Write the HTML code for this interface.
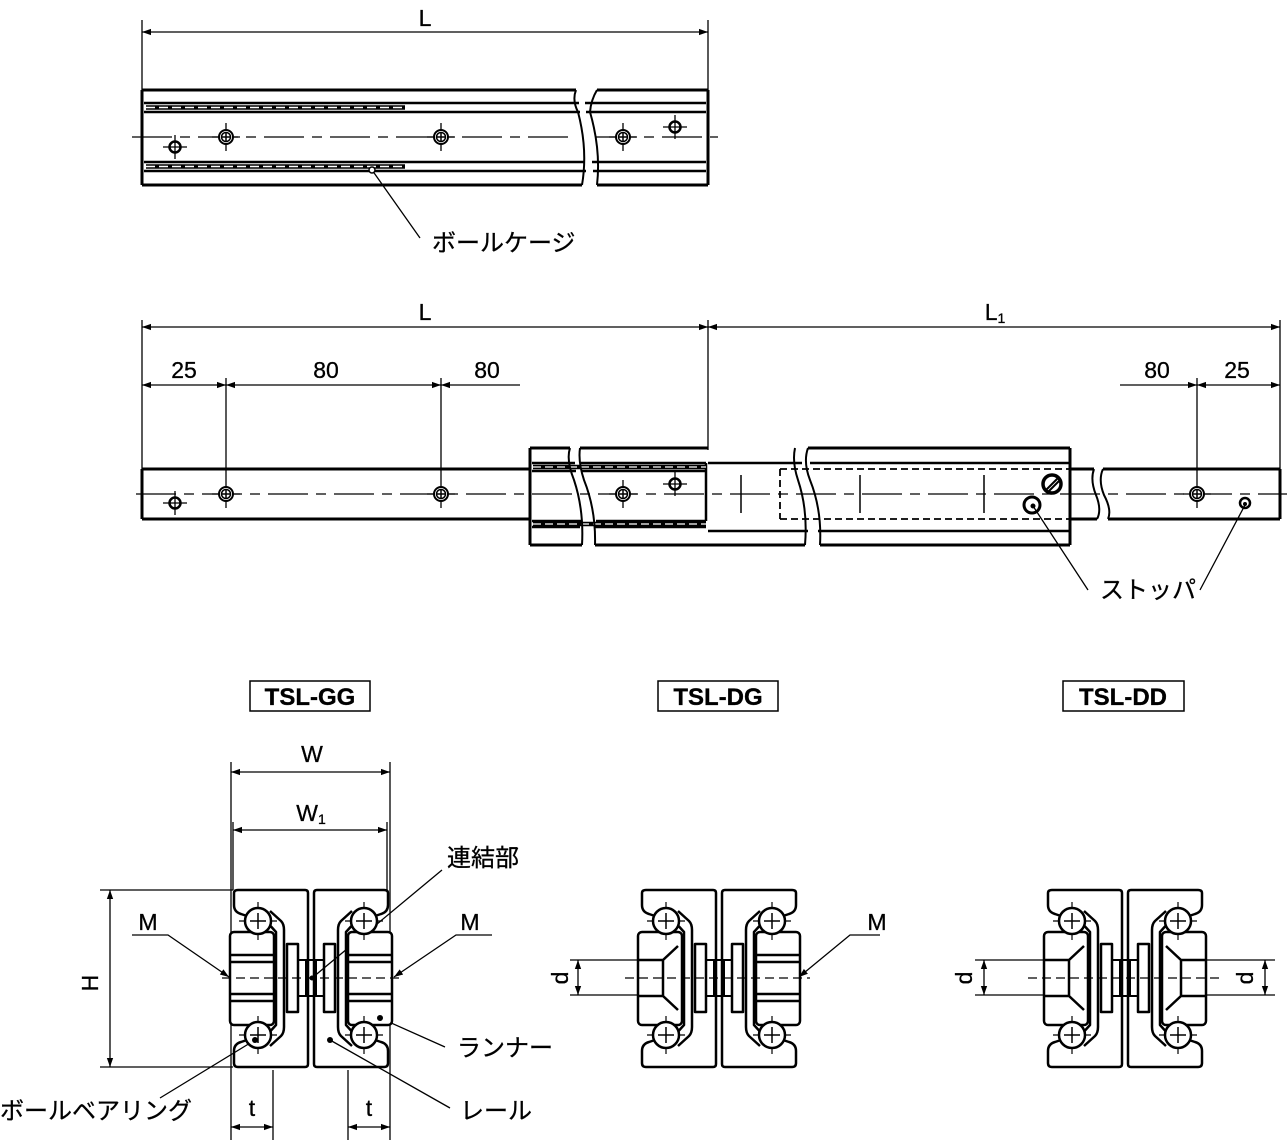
<!DOCTYPE html>
<html><head><meta charset="utf-8"><style>
html,body{margin:0;padding:0;background:#fff}
svg{display:block}
text{font-family:"Liberation Sans","Noto Sans CJK JP",sans-serif;fill:#000;stroke:#000;stroke-width:0.3}
</style></head><body>
<svg width="1287" height="1146" viewBox="0 0 1287 1146" xmlns="http://www.w3.org/2000/svg">
<defs>
<marker id="a" viewBox="0 0 10 10" refX="10" refY="5" markerWidth="9" markerHeight="9" orient="auto-start-reverse" markerUnits="userSpaceOnUse"><path d="M0,1.5 L10,5 L0,8.5 Z" fill="#000"/></marker>
<g id="hb"><circle r="7" fill="#fff" stroke="#000" stroke-width="2"/><circle r="4.5" fill="none" stroke="#000" stroke-width="1.5"/><path d="M-4.5,0H4.5M0,-4.5V4.5" stroke="#000" stroke-width="1.5"/><path d="M0,-14V-7M0,7V14M-14,0H-7M7,0H14" stroke="#000" stroke-width="1.3"/></g>
<g id="hs"><circle r="5.5" fill="#fff" stroke="#000" stroke-width="2.5"/><path d="M-5,0H5M0,-5V5" stroke="#000" stroke-width="1.3"/><path d="M0,-12V-5M0,5V12M-12,0H-5M5,0H12" stroke="#000" stroke-width="1.3"/></g>
<g id="ball"><circle r="13" fill="#fff" stroke="#000" stroke-width="2.5"/><path d="M-8,0H8M0,-8V8" stroke="#000" stroke-width="1.5"/><path d="M0,-19V-13M0,13V19M-19,0H-13M13,0H19" stroke="#000" stroke-width="1.2"/></g>
<g id="half" fill="none" stroke="#000" stroke-width="2.5" stroke-linejoin="round">
<path d="M-73,2 H-6 Q-3,2 -3,5 V176 Q-3,179 -6,179 H-73 Q-77,179 -77,175 V163 Q-77,156 -70,154 L-64,152 M-64,28 L-70,26 Q-77,24 -77,17 V5 Q-77,2 -73,2"/>
<path d="M-41,23 L-30,33 Q-27,36 -27,42 V139 Q-27,145 -30,148 L-41,158"/>
<path d="M-45,33 L-35,44 V137 L-45,148"/>
<rect x="-81" y="44" width="44" height="93" rx="4" fill="#fff"/>
<use href="#ball" x="-53" y="33"/><use href="#ball" x="-53" y="147"/>
<rect x="-24" y="56" width="11" height="68"/>
<path d="M-13,72 H0 M-13,108 H0" stroke-width="2"/>
</g>
<g id="lines"><path d="M-81,67 H-37 M-81,74 H-37 M-81,106 H-37 M-81,113 H-37" stroke="#000" stroke-width="2.5" fill="none"/></g>
<g id="csk"><path d="M-81,72 H-56 L-41,58 M-81,108 H-56 L-41,122 M-56,72 V108" stroke="#000" stroke-width="2.5" fill="none"/></g>
<g id="sec"><use href="#half"/><use href="#half" transform="scale(-1,1)"/><path d="M-5,72V108M5,72V108" stroke="#000" stroke-width="2"/></g>
</defs>

<g stroke="#000" fill="none">
<path d="M142,20V92M708,20V92" stroke-width="1.3"/>
<path d="M142,32H708" stroke-width="1.3" marker-start="url(#a)" marker-end="url(#a)"/>
<path d="M142,90H576 M597,90H708 M142,185H582 M597,185H708 M142,90V185 M708,90V185" stroke-width="3"/>
<path d="M144,103H579 M585,103H706 M144,112H580 M586,112H706 M144,162H585 M592,162H706 M144,171H586 M593,171H706" stroke-width="2.5"/>
<path d="M576,90 Q572,100 578,112 Q588,150 582,185 M597,90 Q591,100 590,112 Q601,150 597,185" stroke-width="2"/>
<path d="M146,107.5H405 M146,166.5H405" stroke-width="4.5"/>
<path d="M146,107.5H405 M146,166.5H405" stroke="#fff" stroke-width="1.5" stroke-dasharray="9 4"/>
<path d="M132,137H575 M596,137H718" stroke-width="1.3" stroke-dasharray="40 8 10 8"/>
<path d="M142,320V470 M708,320V450 M1280,320V495 M226,378V480 M441,378V480 M1197,378V480" stroke-width="1.3"/>
<path d="M142,327H708" stroke-width="1.3" marker-start="url(#a)" marker-end="url(#a)"/>
<path d="M708,327H1280" stroke-width="1.3" marker-start="url(#a)" marker-end="url(#a)"/>
<path d="M142,385H226" stroke-width="1.3" marker-start="url(#a)" marker-end="url(#a)"/>
<path d="M226,385H441" stroke-width="1.3" marker-start="url(#a)" marker-end="url(#a)"/>
<path d="M520,385H441" stroke-width="1.3" marker-end="url(#a)"/>
<path d="M1120,385H1197" stroke-width="1.3" marker-end="url(#a)"/>
<path d="M1197,385H1280" stroke-width="1.3" marker-start="url(#a)" marker-end="url(#a)"/>
<path d="M142,469H530 M142,519H530 M142,469V519" stroke-width="3"/>
<path d="M530,469V519" stroke-width="1.5" stroke-dasharray="5 3"/>
<path d="M530,448H570 M530,545H582 M530,448V545 M580,448H708 M595,545H805 M808,448H1070 M820,545H1070 M1070,448V545" stroke-width="3"/>
<path d="M532,463H575 M581,463H706 M532,527H580 M594,527H706" stroke-width="2.5"/>
<path d="M532,471H576 M582,471H706 M532,521H581 M596,521H706 M706,463V521" stroke-width="2.5"/>
<path d="M708,463H802 M810,463H1070 M708,531H808 M818,531H1070" stroke-width="2.5"/>
<path d="M533,467H706 M533,524H706" stroke-width="4.5"/>
<path d="M533,467H706 M533,524H706" stroke="#fff" stroke-width="1.3" stroke-dasharray="8 4"/>
<path d="M570,448 Q566,460 574,480 Q584,510 582,545 M580,448 Q578,462 584,480 Q596,510 595,545 M795,448 Q792,462 798,480 Q808,510 805,545 M808,448 Q803,462 810,480 Q822,510 820,545" stroke-width="2"/>
<path d="M780,469 H1070 M780,519 H1070 M780,469V519" stroke-width="1.8" stroke-dasharray="7 4"/>
<path d="M1070,469H1094 M1103,469H1280 M1070,519H1097 M1108,519H1280 M1280,469V519" stroke-width="3"/>
<path d="M1094,469 Q1090,480 1096,495 Q1102,510 1097,519 M1103,469 Q1098,480 1104,495 Q1112,510 1108,519" stroke-width="2"/>
<path d="M136,494H1290" stroke-width="1.3" stroke-dasharray="40 8 10 8"/>
<path d="M741,475V513 M860,475V513 M984,475V513" stroke-width="1.5"/>
<circle cx="1052" cy="484" r="9" stroke-width="3.5"/><path d="M1045,491L1059,477M1047,493L1061,479" stroke-width="2"/>
<circle cx="1032" cy="505" r="8" stroke-width="3" fill="#fff"/><circle cx="1033" cy="506" r="2" fill="#000"/>
<circle cx="1245" cy="503" r="5" stroke-width="2.5"/><circle cx="1245" cy="504" r="1.5" fill="#000"/>
<path d="M372,170L420,238 M1033,506L1088,590 M1245,505L1200,590" stroke-width="1.3"/>
<circle cx="372" cy="170" r="3" fill="#fff" stroke-width="1.5"/>
<rect x="250" y="681" width="120" height="30" stroke-width="1.5"/>
<rect x="658" y="681" width="120" height="30" stroke-width="1.5"/>
<rect x="1063" y="681" width="121" height="30" stroke-width="1.5"/>
<path d="M231,762V1140 M390,762V1140 M233,822V890 M387,822V890 M273,1070V1140 M348,1070V1140" stroke-width="1.3"/>
<path d="M231,772H390" stroke-width="1.3" marker-start="url(#a)" marker-end="url(#a)"/>
<path d="M233,830H387" stroke-width="1.3" marker-start="url(#a)" marker-end="url(#a)"/>
<path d="M231,1127H273" stroke-width="1.3" marker-start="url(#a)" marker-end="url(#a)"/>
<path d="M348,1127H390" stroke-width="1.3" marker-start="url(#a)" marker-end="url(#a)"/>
<path d="M100,890H233 M100,1067H233" stroke-width="1.3"/>
<path d="M110,890V1067" stroke-width="1.3" marker-start="url(#a)" marker-end="url(#a)"/>
<path d="M132,935H168L229,977" stroke-width="1.3" marker-end="url(#a)"/>
<path d="M492,935H456L394,977" stroke-width="1.3" marker-end="url(#a)"/>
<path d="M880,935H850L799,977" stroke-width="1.3" marker-end="url(#a)"/>
<path d="M442,870L312,978" stroke-width="1.3"/>
<path d="M380,1018L445,1047 M330,1040L450,1108 M255,1040L160,1098" stroke-width="1.3"/>
<path d="M570,960H640 M570,995H640" stroke-width="1.3"/>
<path d="M578,960V995" stroke-width="1.3" marker-start="url(#a)" marker-end="url(#a)"/>
<path d="M975,960H1045 M975,995H1045 M1205,960H1275 M1205,995H1275" stroke-width="1.3"/>
<path d="M984,960V995" stroke-width="1.3" marker-start="url(#a)" marker-end="url(#a)"/>
<path d="M1265,960V995" stroke-width="1.3" marker-start="url(#a)" marker-end="url(#a)"/>
</g>
<use href="#hs" x="175" y="147"/><use href="#hb" x="226" y="137"/><use href="#hb" x="441" y="137"/><use href="#hb" x="623" y="137"/><use href="#hs" x="675" y="127"/>
<use href="#hs" x="175" y="503"/><use href="#hb" x="226" y="494"/><use href="#hb" x="441" y="494"/><use href="#hb" x="623" y="494"/><use href="#hs" x="675" y="484"/><use href="#hb" x="1197" y="494"/>

<g transform="translate(311,888)"><use href="#sec"/><use href="#lines"/><use href="#lines" transform="scale(-1,1)"/></g>
<g transform="translate(719,888)"><use href="#sec"/><use href="#csk"/><use href="#lines" transform="scale(-1,1)"/></g>
<g transform="translate(1125,888)"><use href="#sec"/><use href="#csk"/><use href="#csk" transform="scale(-1,1)"/></g>
<g stroke="#000" stroke-width="1.3" stroke-dasharray="9 5">
<path d="M222,978H402 M625,978H810 M1028,978H1222"/>
</g>
<circle cx="312" cy="978" r="2.5"/>
<circle cx="380" cy="1018" r="3"/><circle cx="330" cy="1040" r="3"/><circle cx="255" cy="1040" r="3"/>

<g font-size="23">
<text x="425" y="26" text-anchor="middle">L</text>
<text x="425" y="320" text-anchor="middle">L</text>
<text x="995" y="320" text-anchor="middle">L<tspan font-size="14" dy="3">1</tspan></text>
<text x="184" y="378" text-anchor="middle">25</text>
<text x="326" y="378" text-anchor="middle">80</text>
<text x="487" y="378" text-anchor="middle">80</text>
<text x="1157" y="378" text-anchor="middle">80</text>
<text x="1237" y="378" text-anchor="middle">25</text>
<text x="432" y="251" font-size="24">ボールケージ</text>
<text x="1100" y="598" font-size="24">ストッパ</text>
<text x="310" y="705" text-anchor="middle" font-weight="bold" font-size="24">TSL-GG</text>
<text x="718" y="705" text-anchor="middle" font-weight="bold" font-size="24">TSL-DG</text>
<text x="1123" y="705" text-anchor="middle" font-weight="bold" font-size="24">TSL-DD</text>
<text x="312" y="762" text-anchor="middle">W</text>
<text x="311" y="821" text-anchor="middle">W<tspan font-size="14" dy="3">1</tspan></text>
<text x="148" y="930" text-anchor="middle">M</text>
<text x="470" y="930" text-anchor="middle">M</text>
<text x="877" y="930" text-anchor="middle">M</text>
<text x="447" y="866" font-size="24">連結部</text>
<text x="457" y="1056" font-size="24">ランナー</text>
<text x="460" y="1119" font-size="24">レール</text>
<text x="0" y="1119" font-size="24">ボールベアリング</text>
<text x="252" y="1116" text-anchor="middle">t</text>
<text x="369" y="1116" text-anchor="middle">t</text>
<text transform="translate(98,983) rotate(-90)" text-anchor="middle">H</text>
<text transform="translate(568,978) rotate(-90)" text-anchor="middle">d</text>
<text transform="translate(972,978) rotate(-90)" text-anchor="middle">d</text>
<text transform="translate(1253,978) rotate(-90)" text-anchor="middle">d</text>
</g>
</svg>
</body></html>
